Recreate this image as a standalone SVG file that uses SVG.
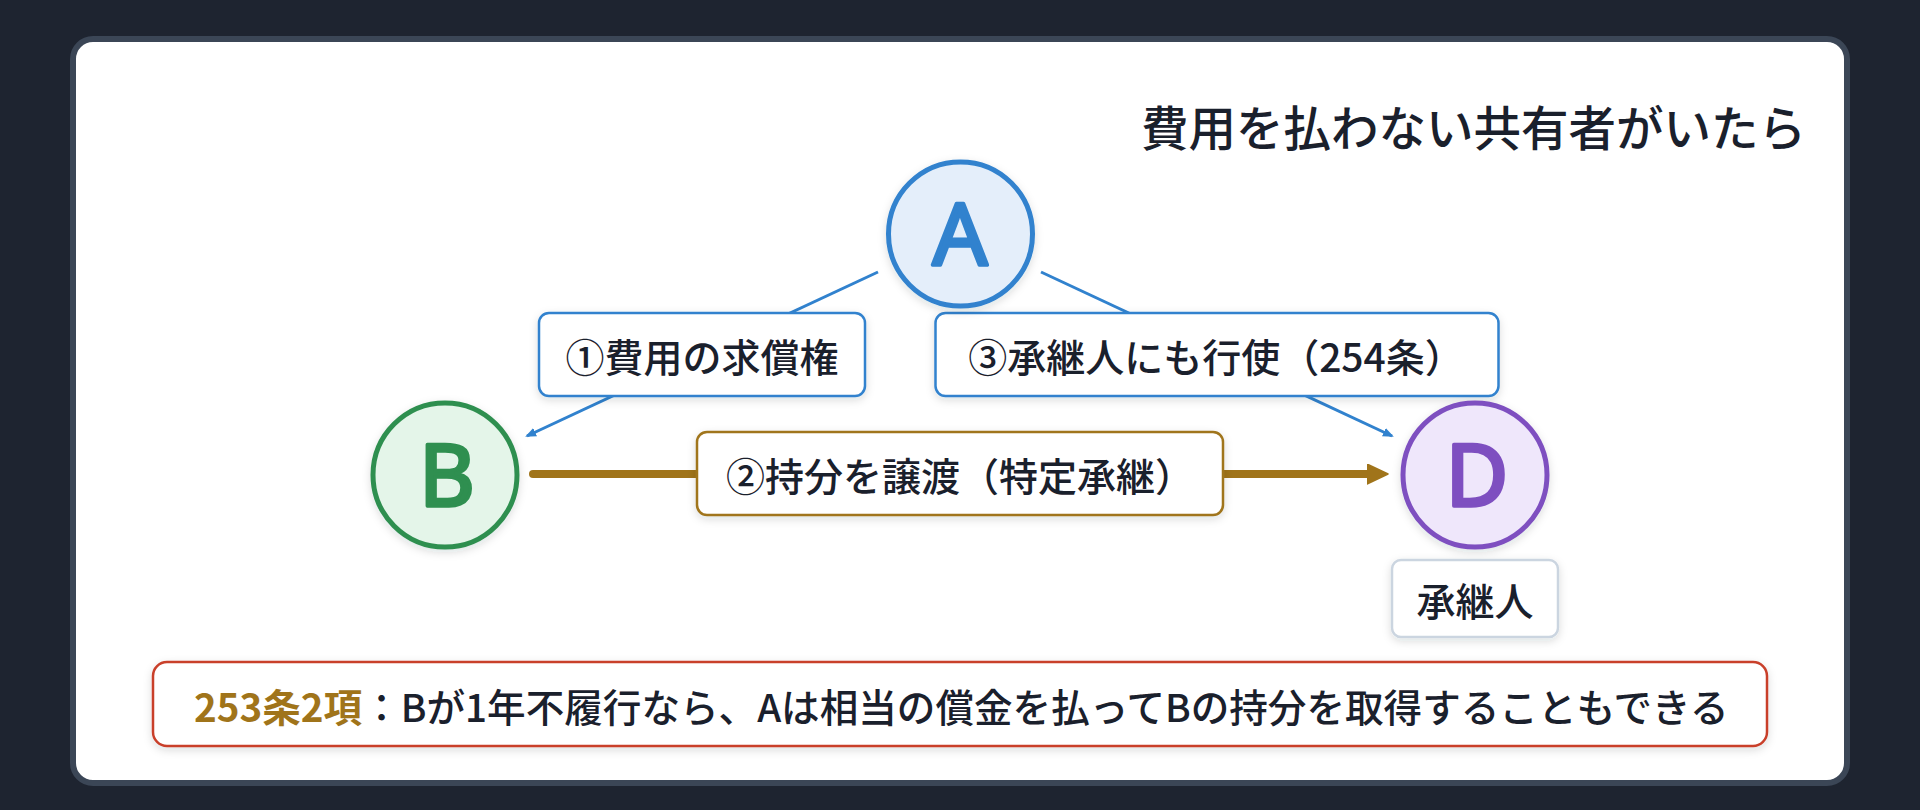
<svg xmlns="http://www.w3.org/2000/svg" width="1920" height="810" viewBox="0 0 1920 810">
  <defs>
    <filter id="sh" x="-20%" y="-20%" width="140%" height="150%">
      <feDropShadow dx="0" dy="3" stdDeviation="4" flood-color="#1a202c" flood-opacity="0.14"/>
    </filter>
    <marker id="arrBlue" markerUnits="userSpaceOnUse" markerWidth="12" markerHeight="10" refX="9" refY="4.5" orient="auto">
      <path d="M0,0 L11,4.5 L0,9 z" fill="#3182ce"/>
    </marker>
    <marker id="arrGold" markerUnits="userSpaceOnUse" markerWidth="24" markerHeight="22" refX="2" refY="10" orient="auto">
      <path d="M0,0 L21,10 L0,20 z" fill="#a0741a" stroke="#a0741a" stroke-width="1.5" stroke-linejoin="round"/>
    </marker>
    <style>
      .jp { font-family: "Noto Sans CJK JP", "Noto Sans", sans-serif; fill: #1a202c; }
      .lbl { font-size: 39px; font-weight: 500; text-anchor: middle; dominant-baseline: central; }
      .box { fill: #ffffff; stroke-width: 2.5; filter: url(#sh); }
      .node { stroke-width: 5; filter: url(#sh); }
      .letter { font-family: "Noto Sans", "DejaVu Sans", sans-serif; font-size: 86px; font-weight: 400; text-anchor: middle; stroke-width: 3.5; stroke-linejoin: round; stroke-linecap: round; }
    </style>
  </defs>

  <rect x="0" y="0" width="1920" height="810" fill="#1e2430"/>
  <rect x="73" y="39" width="1774" height="744" rx="20" fill="#ffffff" stroke="#3b4656" stroke-width="6"/>

  <g id="title">
    <text class="jp" x="1806" y="125" font-size="47.5" font-weight="500" text-anchor="end" dominant-baseline="central">費用を払わない共有者がいたら</text>
  </g>

  <g id="connectors">
    <line x1="878" y1="272" x2="527" y2="436" stroke="#3182ce" stroke-width="3" marker-end="url(#arrBlue)"/>
    <line x1="1041" y1="272" x2="1392" y2="436" stroke="#3182ce" stroke-width="3" marker-end="url(#arrBlue)"/>
    <line x1="533" y1="474" x2="1369" y2="474" stroke="#a0741a" stroke-width="8" stroke-linecap="round" marker-end="url(#arrGold)"/>
  </g>

  <g id="label-1">
    <rect class="box" x="539" y="313" width="326" height="83" rx="10" stroke="#3182ce"/>
    <text class="jp lbl" x="702" y="355">①費用の求償権</text>
  </g>
  <g id="label-3">
    <rect class="box" x="935.5" y="313" width="563" height="83" rx="10" stroke="#3182ce"/>
    <text class="jp lbl" x="1216" y="355">③承継人にも行使（254条）</text>
  </g>
  <g id="label-2">
    <rect class="box" x="697" y="432" width="526" height="83" rx="10" stroke="#a0741a"/>
    <text class="jp lbl" x="960" y="474">②持分を譲渡（特定承継）</text>
  </g>

  <g id="node-A">
    <circle class="node" cx="960.5" cy="234" r="72" fill="#e4eefa" stroke="#3182ce"/>
    <text class="letter" x="960" y="265" fill="#3182ce" stroke="#3182ce">A</text>
  </g>
  <g id="node-B">
    <circle class="node" cx="445" cy="475" r="72" fill="#e4f5e9" stroke="#2f8f50"/>
    <text class="letter" x="447" y="506" fill="#2f8f50" stroke="#2f8f50">B</text>
  </g>
  <g id="node-D">
    <circle class="node" cx="1475" cy="475" r="72" fill="#efe7fb" stroke="#7e4fc0"/>
    <text class="letter" x="1477" y="506" fill="#7e4fc0" stroke="#7e4fc0">D</text>
  </g>

  <g id="label-successor">
    <rect class="box" x="1392" y="560" width="166" height="77" rx="9" stroke="#cbd5e0" stroke-width="2"/>
    <text class="jp lbl" x="1475" y="599" font-size="40">承継人</text>
  </g>

  <g id="note">
    <rect class="box" x="153" y="662" width="1614" height="84" rx="14" stroke="#c9402c" stroke-width="3"/>
    <text class="jp" x="194" y="705" font-size="38.6" font-weight="500" dominant-baseline="central"><tspan fill="#a0741a" font-weight="700">253条2項</tspan>：Bが1年不履行なら、Aは相当の償金を払ってBの持分を取得することもできる</text>
  </g>
</svg>
